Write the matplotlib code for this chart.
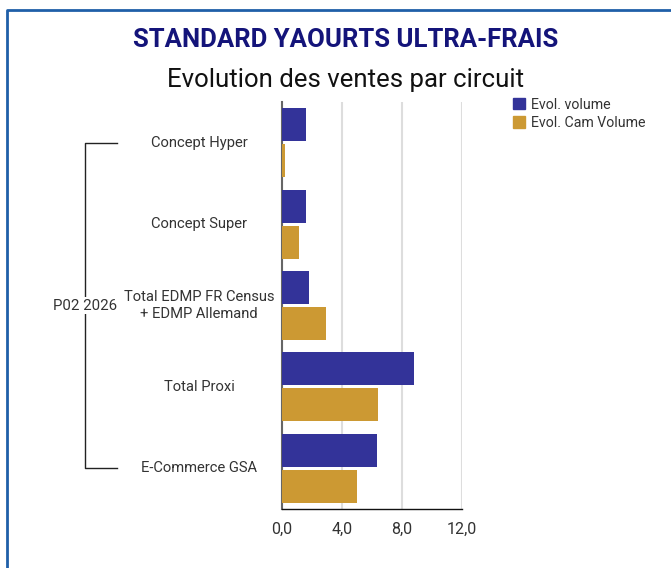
import matplotlib
matplotlib.use('Agg')
import numpy as np
import matplotlib.pyplot as plt
from matplotlib.lines import Line2D
from matplotlib.patches import Patch

categories = ['Concept Hyper', 'Concept Super',
              'Total EDMP FR Census\n+ EDMP Allemand',
              'Total Proxi', 'E-Commerce GSA']
evol_volume = [1.6, 1.6, 1.8, 8.8, 6.3]
evol_cam_volume = [0.2, 1.15, 2.95, 6.4, 5.0]
xticks = [0, 4, 8, 12]
xtick_labels = ['0,0', '4,0', '8,0', '12,0']
group_label = 'P02 2026'

blue = '#333399'
gold = '#CC9933'
txt = '#333333'

plt.rcParams['font.family'] = ['Roboto', 'DejaVu Sans']

fig = plt.figure(figsize=(6.71, 5.68), dpi=100)
ax = fig.add_axes([282/671, 1-509/568, 180/671, 407/568])

y = np.arange(len(categories))
h = 0.405
off = 0.221
ax.barh(y - off, evol_volume, height=h, color=blue, zorder=3)
ax.barh(y + off, evol_cam_volume, height=h, color=gold, zorder=3)

ax.set_xlim(0, 12)
ax.set_ylim(4.5, -0.5)
ax.set_xticks(xticks)
ax.set_xticklabels(xtick_labels, fontsize=11.5, color=txt)
ax.set_yticks([])
ax.tick_params(axis='x', length=0, pad=9)
ax.grid(axis='x', color='#dddddd', linewidth=1.5, zorder=0)
for s in ['top', 'right']:
    ax.spines[s].set_visible(False)
ax.spines['left'].set_color('#666666')
ax.spines['left'].set_linewidth(1.5)
ax.spines['bottom'].set_color('#111111')
ax.spines['bottom'].set_linewidth(1)

# category labels
for i, c in enumerate(categories):
    ax.annotate(c, xy=(0, i), xycoords=('axes fraction', 'data'),
                xytext=(199/671, 0), textcoords=('figure fraction', 'offset points'),
                ha='center', va='center', fontsize=10.6, color=txt,
                multialignment='center', linespacing=1.2)

# bracket for the group label
def fy(v):
    return fig.transFigure.inverted().transform(ax.transData.transform((0, v)))[1]

y0, y1 = fy(0), fy(len(categories) - 1)
bx, bx2 = 85/671, 117/671
fig.add_artist(Line2D([bx2, bx, bx, bx2], [y0, y0, y1, y1], color='#222222', lw=1))
fig.text(bx, (y0 + y1) / 2, group_label, ha='center', va='center', fontsize=10.8,
         color=txt, bbox=dict(facecolor='white', edgecolor='none', pad=1))

# titles
fig.text(346/671, 1-40/568, 'STANDARD YAOURTS ULTRA-FRAIS', ha='center', va='center',
         fontsize=18.5, fontweight='bold', color='#14147a')
fig.text(346/671, 1-80/568, 'Evolution des ventes par circuit', ha='center', va='center',
         fontsize=18.5, color='#111111')

# legend
handles = [Patch(color=blue, label='Evol. volume'),
           Patch(color=gold, label='Evol. Cam Volume')]
fig.legend(handles=handles, loc='upper left', bbox_to_anchor=(500/671, 1-85/568),
           frameon=False, fontsize=10.2, handlelength=0.85, handleheight=0.85,
           handletextpad=0.45, labelspacing=0.3, labelcolor=txt)

# outer frame
fig.add_artist(Line2D([7/671, 7/671, 1], [0, 1-10/568, 1-10/568],
                      color='#1f5fa8', lw=2))

fig.savefig('out.png', dpi=100)
